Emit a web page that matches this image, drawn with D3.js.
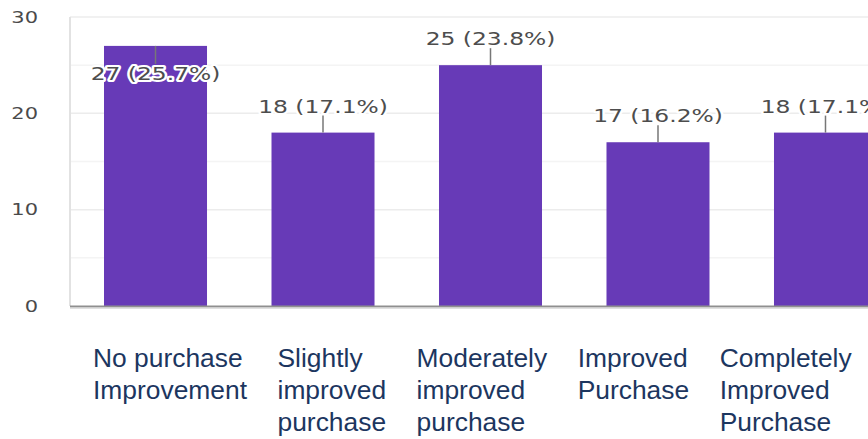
<!DOCTYPE html>
<html>
<head>
<meta charset="utf-8">
<script src="https://cdn.jsdelivr.net/npm/d3@7"></script>
<style>
  html, body { margin: 0; padding: 0; background: #fff; }
  svg { display: block; }
</style>
</head>
<body>
<svg id="chart" width="868" height="439"></svg>
<script>
// Survey responses per purchase-improvement level
const categories = [
  ["No purchase", "Improvement"],
  ["Slightly", "improved", "purchase"],
  ["Moderately", "improved", "purchase"],
  ["Improved", "Purchase"],
  ["Completely", "Improved", "Purchase"]
];
const counts = [27, 18, 25, 17, 18];
const percents = ["25.7%", "17.1%", "23.8%", "16.2%", "17.1%"];
const yTicks = [0, 10, 20, 30];
const gridValues = [5, 10, 15, 20, 25, 30];

const svg = d3.select("#chart");
const W = 868;

const plotLeft = 70, plotRight = 911, plotTop = 17, plotBottom = 306;

const x = d3.scaleBand()
  .domain(d3.range(counts.length))
  .range([plotLeft, plotRight])
  .paddingInner(0.385)
  .paddingOuter(0.203);

const y = d3.scaleLinear().domain([0, 30]).range([plotBottom, plotTop]);

// gridlines
svg.append("g").selectAll("line")
  .data(gridValues)
  .join("line")
  .attr("x1", plotLeft).attr("x2", W)
  .attr("y1", d => y(d)).attr("y2", d => y(d))
  .attr("stroke", d => d % 10 === 0 ? "#ececec" : "#f4f4f4")
  .attr("stroke-width", 1.5);

// left border
svg.append("line")
  .attr("x1", plotLeft).attr("x2", plotLeft)
  .attr("y1", plotTop).attr("y2", plotBottom)
  .attr("stroke", "#e2e2e2").attr("stroke-width", 2);

// y tick labels, stretched horizontally from their right edge
const yAxis = d3.axisLeft(y).tickValues(yTicks).tickSize(0).tickPadding(0);
const yg = svg.append("g").attr("transform", "translate(38,0)").call(yAxis);
yg.select(".domain").remove();
yg.selectAll(".tick text")
  .attr("x", 0).attr("dy", "0.35em")
  .attr("font-family", "DejaVu Sans, sans-serif")
  .attr("font-size", 15)
  .attr("fill", "#4a4a4a")
  .attr("text-anchor", "end")
  .attr("transform", "scale(1.4,1)");

// bars
svg.append("g").selectAll("rect")
  .data(counts)
  .join("rect")
  .attr("x", (d, i) => x(i))
  .attr("width", x.bandwidth())
  .attr("y", d => y(d))
  .attr("height", d => y(0) - y(d))
  .attr("fill", "#673ab7");

// bottom axis
svg.append("line")
  .attr("x1", plotLeft).attr("x2", W)
  .attr("y1", plotBottom + 0.5).attr("y2", plotBottom + 0.5)
  .attr("stroke", "#8f8f8f").attr("stroke-width", 2);
svg.append("line")
  .attr("x1", plotLeft).attr("x2", W)
  .attr("y1", plotBottom + 2.2).attr("y2", plotBottom + 2.2)
  .attr("stroke", "#d6d6d6").attr("stroke-width", 1.2);

// value labels with leader lines; a label that would crowd the top edge sits inside the bar
const labelG = svg.append("g");
counts.forEach((v, i) => {
  const cx = x(i) + x.bandwidth() / 2;
  const top = y(v);
  const inside = v >= 26;
  const baseline = inside ? top + 34 : top - 20;
  const lineEnd = inside ? top + 18 : top - 17;
  labelG.append("line")
    .attr("x1", cx).attr("x2", cx)
    .attr("y1", top).attr("y2", lineEnd)
    .attr("stroke", "#777").attr("stroke-width", 1.5);
  const txt = `${v} (${percents[i]})`;
  const g = labelG.append("g").attr("transform", `translate(${cx},${baseline}) scale(1.3,1)`);
  g.append("text")
    .attr("text-anchor", "middle")
    .attr("font-family", "DejaVu Sans, sans-serif")
    .attr("font-size", 18)
    .attr("stroke", "#fff").attr("stroke-width", 4).attr("stroke-linejoin", "round")
    .attr("fill", "#fff")
    .text(txt);
  g.append("text")
    .attr("text-anchor", "middle")
    .attr("font-family", "DejaVu Sans, sans-serif")
    .attr("font-size", 18)
    .attr("fill", "#4d4d4d")
    .text(txt);
});

// category captions, flowed left to right in columns
const capG = svg.append("g")
  .attr("font-family", "Liberation Sans, Arial, sans-serif")
  .attr("font-size", 26.4)
  .attr("fill", "#1c365f");
let colX = 93;
const colGap = 30.5;
categories.forEach(lines => {
  const t = capG.append("text").attr("x", colX).attr("y", 367);
  lines.forEach((ln, j) => {
    t.append("tspan").attr("x", colX).attr("y", 367 + j * 32).text(ln);
  });
  let maxW = 0;
  t.selectAll("tspan").each(function () {
    maxW = Math.max(maxW, this.getComputedTextLength());
  });
  colX += maxW + colGap;
});
</script>
</body>
</html>
